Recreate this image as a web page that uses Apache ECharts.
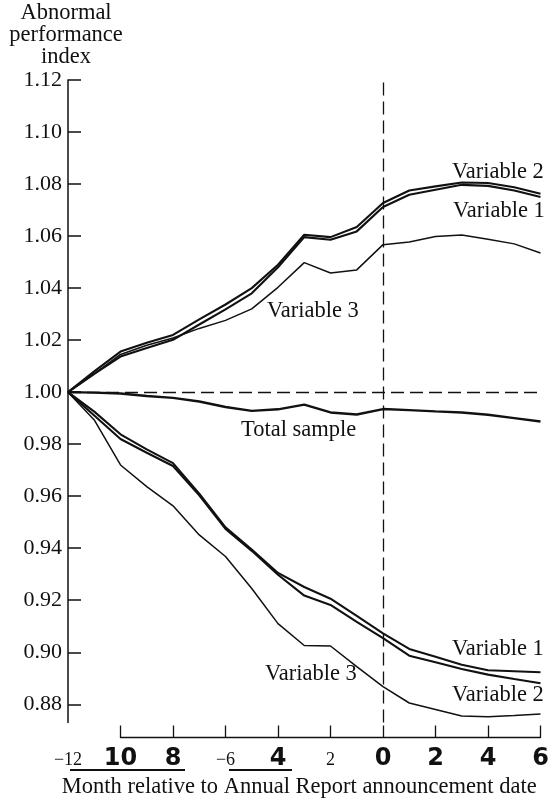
<!DOCTYPE html>
<html><head><meta charset="utf-8">
<script src="https://cdn.jsdelivr.net/npm/echarts@6/dist/echarts.min.js"></script>
<style>html,body{margin:0;padding:0;background:#fff}#c{width:548px;height:798px}</style>
</head><body><div id="c"></div>
<script>
// ---- data ----
const months = [-12,-11,-10,-9,-8,-7,-6,-5,-4,-3,-2,-1,0,1,2,3,4,5,6];
const totalSample = [1.000,0.9998,0.9995,0.9985,0.9978,0.9964,0.9943,0.9928,0.9934,0.9952,0.9922,0.9914,0.9935,0.9931,0.9926,0.9922,0.9913,0.9900,0.9887];
const var2Upper = [1.000,1.008,1.0156,1.019,1.022,1.028,1.0337,1.040,1.049,1.0605,1.0596,1.0635,1.0727,1.0775,1.0791,1.0806,1.0804,1.0788,1.0763];
const var1Upper = [1.000,1.007,1.0137,1.017,1.0201,1.026,1.0318,1.038,1.048,1.0596,1.0586,1.0618,1.0712,1.0759,1.0778,1.0797,1.0793,1.0775,1.0750];
const var3Upper = [1.000,1.007,1.0145,1.018,1.0208,1.0245,1.0276,1.032,1.0403,1.0498,1.0458,1.047,1.0567,1.0577,1.0598,1.0604,1.0588,1.057,1.0535];
const var1Lower = [1.000,0.9925,0.9838,0.978,0.9727,0.961,0.948,0.9395,0.9305,0.9251,0.9206,0.914,0.9073,0.9013,0.8983,0.8952,0.8931,0.8927,0.8923];
const var2Lower = [1.000,0.991,0.982,0.9767,0.9716,0.9603,0.9474,0.939,0.9298,0.9218,0.9182,0.9117,0.9054,0.8987,0.8962,0.8936,0.8914,0.8897,0.8881];
const var3Lower = [1.000,0.9893,0.972,0.9637,0.9563,0.9451,0.9368,0.9245,0.911,0.9026,0.9024,0.8945,0.8868,0.8805,0.878,0.8755,0.8752,0.8757,0.8763];
const yTickValues = [0.88,0.90,0.92,0.94,0.96,0.98,1.00,1.02,1.04,1.06,1.08,1.10,1.12];
const yTickLabels = ['0.88','0.90','0.92','0.94','0.96','0.98','1.00','1.02','1.04','1.06','1.08','1.10','1.12'];
const xTickValues = [-12,-10,-8,-6,-4,-2,0,2,4,6];
const xTickLabels = ['\u221212','10','8','\u22126','4','2','0','2','4','6'];
const xTickMarks = [-10,-8,-6,-4,-2,0,2,4,6];

// ---- styling ----
const SERIF = '"Liberation Serif","Times New Roman",serif';
const INK = '#111';
const xLabelStyle = ['s','b','b','s','b','s','b','b','b','b'];

function pairs(arr){ return months.map((m,i)=>[m, arr[i]]); }
function line(name, arr, w){
  return {name, type:'line', data:pairs(arr), symbol:'none', xAxisIndex:0, yAxisIndex:0,
    lineStyle:{color:INK, width:w}, itemStyle:{color:INK}, z:3};
}
const series = [
  line('Total sample', totalSample, 2.4),
  line('Variable 2 (up)', var2Upper, 2.1),
  line('Variable 1 (up)', var1Upper, 2.1),
  line('Variable 3 (up)', var3Upper, 1.5),
  line('Variable 1 (down)', var1Lower, 2.1),
  line('Variable 2 (down)', var2Lower, 2.1),
  line('Variable 3 (down)', var3Lower, 1.5)
];
series[0].markLine = {silent:true, symbol:['none','none'], label:{show:false},
  lineStyle:{color:INK, type:[13,6], width:1.3},
  data:[{yAxis:1.0},{xAxis:0}]};

function txt(t, x, y){
  return {type:'text', x, y, style:{text:t, font:'22.5px '+SERIF, fill:INK, verticalAlign:'middle'}};
}

const option = {
  animation:false,
  backgroundColor:'#fff',
  grid:[
    {left:68, right:7.5, top:80, bottom:75.5, containLabel:false, outerBoundsMode:'none'},
    {left:120.5, right:7.5, top:80, bottom:75.5, containLabel:false, outerBoundsMode:'none'}
  ],
  xAxis:[
    {type:'value', gridIndex:0, min:-12, max:6, offset:15,
     axisLine:{show:false, onZero:false},
     axisTick:{show:true, inside:true, length:12, customValues:xTickMarks, lineStyle:{color:INK, width:1.3}},
     axisLabel:{customValues:xTickValues, margin:9,
       formatter:(v)=>{const i=xTickValues.indexOf(v); return '{'+xLabelStyle[i]+'|'+xTickLabels[i]+'}';},
       rich:{
         s:{fontFamily:SERIF, fontSize:18, lineHeight:24, color:INK, padding:[3,0,0,0]},
         b:{fontFamily:'"DejaVu Sans",sans-serif', fontWeight:'bold', fontSize:24, lineHeight:24, color:INK}
       }},
     splitLine:{show:false},
     name:'Month relative to Annual Report announcement date', nameLocation:'middle', nameGap:37,
     nameTextStyle:{fontFamily:SERIF, fontSize:22.5, color:INK, padding:[0,10,0,0]}
    },
    {type:'value', gridIndex:1, min:-10, max:6, offset:15,
     axisLine:{show:true, onZero:false, lineStyle:{color:INK, width:1.3}},
     axisTick:{show:false}, axisLabel:{show:false}, splitLine:{show:false}}
  ],
  yAxis:[
    {type:'value', gridIndex:0, min:0.873, max:1.12,
     axisLine:{show:true, onZero:false, lineStyle:{color:INK, width:1.5}},
     axisTick:{show:true, inside:true, length:13, customValues:yTickValues, lineStyle:{color:INK, width:1.5}},
     axisLabel:{customValues:yTickValues, margin:6, fontFamily:SERIF, fontSize:22, color:INK,
       formatter:(v)=>{const i=yTickValues.findIndex(t=>Math.abs(t-v)<1e-6); return i<0?'':yTickLabels[i];}},
     splitLine:{show:false},
     name:'Abnormal\nperformance\nindex', nameLocation:'end', nameGap:12,
     nameTextStyle:{fontFamily:SERIF, fontSize:22.5, lineHeight:22, color:INK, align:'center', verticalAlign:'bottom', padding:[0,4,0,0]}
    },
    {type:'value', gridIndex:1, min:0, max:1, show:false}
  ],
  series,
  graphic:[
    txt('Variable 2', 452, 172),
    txt('Variable 1', 453, 211),
    txt('Variable 3', 267, 311),
    txt('Total sample', 241, 430),
    txt('Variable 1', 452, 649),
    txt('Variable 2', 452, 695),
    txt('Variable 3', 265, 674),
    {type:'line', shape:{x1:70, y1:770, x2:185, y2:770}, style:{stroke:INK, lineWidth:2}},
    {type:'line', shape:{x1:229, y1:770, x2:292, y2:770}, style:{stroke:INK, lineWidth:2}}
  ]
};
const chart = echarts.init(document.getElementById('c'), null, {renderer:'canvas'});
chart.setOption(option);
</script></body></html>
